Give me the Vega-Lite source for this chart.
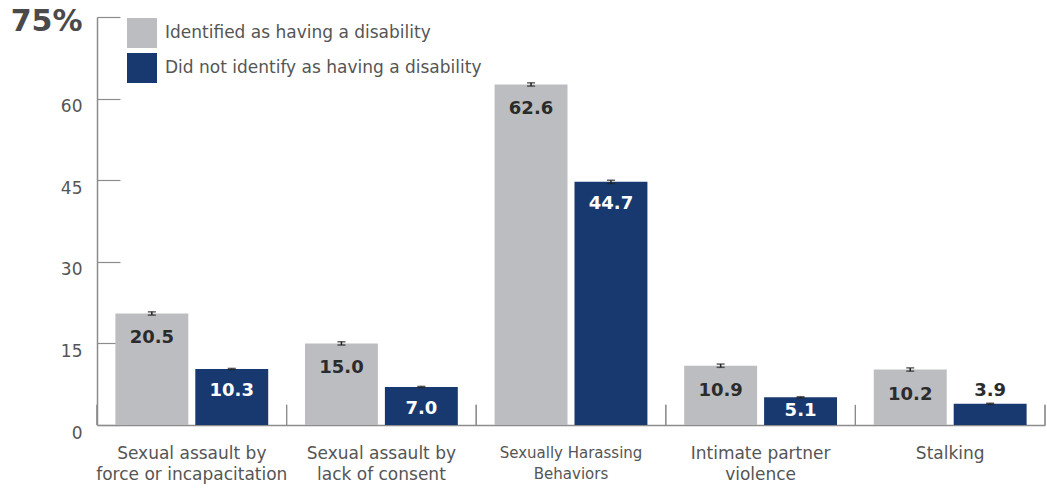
{
  "$schema": "https://vega.github.io/schema/vega-lite/v6.json",
  "width": 948,
  "height": 408,
  "autosize": "none",
  "padding": {"left": 97, "top": 17, "right": 2, "bottom": 63},
  "config": {"font": "DejaVu Sans", "view": {"stroke": null}},
  "data": {
    "values": [
      {"category": "Sexual assault by|force or incapacitation", "group": "Identified as having a disability", "value": 20.5, "lo": 20.2, "hi": 20.8},
      {"category": "Sexual assault by|force or incapacitation", "group": "Did not identify as having a disability", "value": 10.3, "lo": 10.2, "hi": 10.4},
      {"category": "Sexual assault by|lack of consent", "group": "Identified as having a disability", "value": 15.0, "lo": 14.7, "hi": 15.3},
      {"category": "Sexual assault by|lack of consent", "group": "Did not identify as having a disability", "value": 7.0, "lo": 6.9, "hi": 7.1},
      {"category": "Sexually Harassing|Behaviors", "group": "Identified as having a disability", "value": 62.6, "lo": 62.3, "hi": 62.9},
      {"category": "Sexually Harassing|Behaviors", "group": "Did not identify as having a disability", "value": 44.7, "lo": 44.4, "hi": 45.0},
      {"category": "Intimate partner|violence", "group": "Identified as having a disability", "value": 10.9, "lo": 10.6, "hi": 11.2},
      {"category": "Intimate partner|violence", "group": "Did not identify as having a disability", "value": 5.1, "lo": 5.0, "hi": 5.2},
      {"category": "Stalking", "group": "Identified as having a disability", "value": 10.2, "lo": 9.9, "hi": 10.5},
      {"category": "Stalking", "group": "Did not identify as having a disability", "value": 3.9, "lo": 3.8, "hi": 4.0}
    ]
  },
  "layer": [
    {
      "encoding": {
        "x": {
          "field": "category", "type": "nominal", "sort": null,
          "scale": {"paddingInner": 0, "paddingOuter": 0},
          "axis": {
            "title": null,
            "labelAngle": 0,
            "labelAlign": "center",
            "labelExpr": "split(datum.label, '|')",
            "labelFontSize": {"condition": {"test": "indexof(datum.value, 'Harassing') >= 0", "value": 15}, "value": 17},
            "labelColor": "#555555",
            "labelLineHeight": 21,
            "labelPadding": 20,
            "labelBaseline": "top",
            "labelLimit": 400,
            "domainColor": "#8c8c8c",
            "domainWidth": 1.5,
            "ticks": false
          }
        },
        "xOffset": {
          "field": "group", "type": "nominal",
          "sort": ["Identified as having a disability", "Did not identify as having a disability"],
          "scale": {"paddingInner": 0.0875, "paddingOuter": 0.23}
        }
      },
      "layer": [
        {
          "mark": {"type": "bar"},
          "encoding": {
            "y": {
              "field": "value", "type": "quantitative",
              "scale": {"domain": [0, 75], "nice": false},
              "axis": {
                "title": null,
                "grid": false,
                "values": [0, 15, 30, 45, 60, 75],
                "labelExpr": "datum.value == 75 ? '75%' : datum.label",
                "labelFontSize": {"condition": {"test": "datum.value == 75", "value": 30}, "value": 17},
                "labelFontWeight": {"condition": {"test": "datum.value == 75", "value": "bold"}, "value": "normal"},
                "labelColor": {"condition": {"test": "datum.value == 75", "value": "#4a4a4a"}, "value": "#555555"},
                "labelOffset": {"condition": {"test": "datum.value == 75", "value": 4}, "value": 8},
                "labelPadding": 38,
                "domainColor": "#8c8c8c",
                "domainWidth": 1.5,
                "tickColor": "#8c8c8c",
                "tickSize": -23,
                "tickWidth": 1.2
              }
            },
            "color": {
              "field": "group", "type": "nominal",
              "sort": ["Identified as having a disability", "Did not identify as having a disability"],
              "scale": {"range": ["#bcbdc1", "#17396f"]},
              "legend": {
                "orient": "none",
                "legendX": 30,
                "legendY": 1,
                "title": null,
                "symbolType": "square",
                "symbolSize": 900,
                "symbolStrokeWidth": 0,
                "symbolOpacity": 1,
                "labelFontSize": 17,
                "labelColor": "#555555",
                "labelOffset": 8,
                "labelLimit": 500,
                "rowPadding": 5
              }
            }
          }
        },
        {
          "mark": {"type": "rule", "color": "#222222", "strokeWidth": 1.5},
          "encoding": {
            "y": {"field": "lo", "type": "quantitative"},
            "y2": {"field": "hi"}
          }
        },
        {
          "mark": {"type": "tick", "color": "#222222", "size": 8, "thickness": 1.5},
          "encoding": {"y": {"field": "lo", "type": "quantitative"}}
        },
        {
          "mark": {"type": "tick", "color": "#222222", "size": 8, "thickness": 1.5},
          "encoding": {"y": {"field": "hi", "type": "quantitative"}}
        },
        {
          "transform": [{"filter": "datum.value >= 6 && datum.group == 'Identified as having a disability'"}],
          "mark": {"type": "text", "fontSize": 18, "fontWeight": "bold", "baseline": "middle", "dy": 25, "color": "#2b2b2b"},
          "encoding": {
            "y": {"field": "value", "type": "quantitative"},
            "text": {"field": "value", "type": "quantitative", "format": ".1f"}
          }
        },
        {
          "transform": [{"filter": "datum.value >= 6 && datum.group != 'Identified as having a disability'"}],
          "mark": {"type": "text", "fontSize": 18, "fontWeight": "bold", "baseline": "middle", "dy": 22, "color": "#ffffff"},
          "encoding": {
            "y": {"field": "value", "type": "quantitative"},
            "text": {"field": "value", "type": "quantitative", "format": ".1f"}
          }
        },
        {
          "transform": [{"filter": "datum.value >= 5 && datum.value < 6"}],
          "mark": {"type": "text", "fontSize": 18, "fontWeight": "bold", "baseline": "middle", "dy": 14, "color": "#ffffff"},
          "encoding": {
            "y": {"field": "value", "type": "quantitative"},
            "text": {"field": "value", "type": "quantitative", "format": ".1f"}
          }
        },
        {
          "transform": [{"filter": "datum.value < 5"}],
          "mark": {"type": "text", "fontSize": 18, "fontWeight": "bold", "baseline": "middle", "dy": -13, "color": "#2b2b2b"},
          "encoding": {
            "y": {"field": "value", "type": "quantitative"},
            "text": {"field": "value", "type": "quantitative", "format": ".1f"}
          }
        }
      ]
    },
    {
      "mark": {"type": "rule", "color": "#8c8c8c", "strokeWidth": 1.2},
      "encoding": {
        "x": {"field": "category", "type": "nominal", "sort": null, "bandPosition": 0},
        "y": {"datum": 0, "type": "quantitative"},
        "y2": {"datum": 3.7}
      }
    },
    {
      "transform": [{"filter": "datum.category == 'Stalking'"}],
      "mark": {"type": "rule", "color": "#8c8c8c", "strokeWidth": 1.2},
      "encoding": {
        "x": {"field": "category", "type": "nominal", "sort": null, "bandPosition": 1},
        "y": {"datum": 0, "type": "quantitative"},
        "y2": {"datum": 3.7}
      }
    }
  ]
}
